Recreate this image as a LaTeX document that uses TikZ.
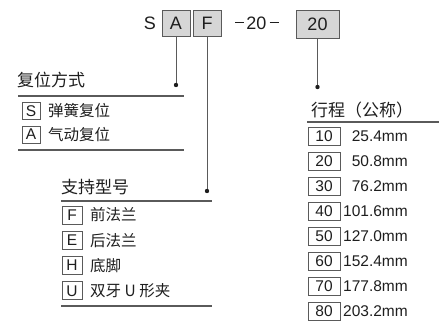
\documentclass[tikz,border=0pt]{standalone}
\usepackage{fontspec}
\setmainfont{Liberation Sans}
\newfontfamily\cjk{Noto Sans CJK SC}

\definecolor{boxfill}{HTML}{D6D6D6}
\definecolor{linegray}{HTML}{5A5A5A}
\definecolor{ink}{HTML}{1E1E1E}

\newcommand\codedash{\rule[6pt]{9pt}{1.1pt}}

\tikzset{
  codebox/.style={draw=linegray, fill=boxfill, line width=.9pt, minimum width=28pt,
    minimum height=26pt, inner sep=0pt, font=\fontsize{18}{18}\selectfont},
  keybox/.style={draw=linegray, line width=.9pt, minimum width=18pt, minimum height=17pt,
    inner sep=0pt},
  head/.style={anchor=west, inner sep=0pt, font=\cjk\fontsize{17}{20}\selectfont},
  item/.style={anchor=west, inner sep=0pt, font=\cjk\fontsize{15.5}{18}\selectfont},
  rule/.style={draw=linegray, line width=1.2pt},
  lead/.style={draw=linegray, line width=.9pt},
}

\begin{document}
\begin{tikzpicture}[x=1pt, y=-1pt, text=ink, font=\fontsize{15.5}{18}\selectfont]
\useasboundingbox (0,0) rectangle (439,324);

% model code
\node[font=\fontsize{18}{18}\selectfont] (s) at (150,23) {S};
\node[codebox] (a) at (176,23) {A};
\node[codebox] (f) at (207,23) {F};
\node[font=\fontsize{18}{18}\selectfont] (dash) at (257,23) {\codedash\kern2pt20\kern3pt\codedash};
\node[codebox, minimum width=43pt, minimum height=28pt] (st) at (317.5,24) {20};

\coordinate (da) at (176,85);
\coordinate (df) at (207,191);
\coordinate (dst) at (317.5,87);
\draw[lead] (a.south) -- (da);
\draw[lead] (f.south) -- (df);
\draw[lead] (st.south) -- (dst);
\foreach \d in {da,df,dst}
\fill[ink] (\d) circle (2.2pt);

% return type
\node[head] (ret) at (17,80) {复位方式};
\draw[rule] (18,96) -- (184,96) (18,150) -- (184,150);
\foreach \k/\t [count=\i] in {S/弹簧复位, A/气动复位}{
\node[keybox] (r\i) at (31,{87.5+23.5*\i}) {\k};
\node[item] (rt\i) at (48,{87.5+23.5*\i}) {\t};
}

% mounting
\node[head] (mnt) at (61,187) {支持型号};
\draw[rule] (61,201) -- (212,201) (61,306) -- (212,306);
\foreach \k/\t [count=\i] in {F/前法兰, E/后法兰, H/底脚, U/双牙 U 形夹}{
\node[keybox, minimum width=20pt, minimum height=18pt] (m\i) at (72,{189.7+25.3*\i}) {\k};
\node[item] (mt\i) at (90,{189.7+25.3*\i}) {\t};
}

% stroke
\node[head] (str) at (311,110) {行程（公称）};
\draw[rule] (307,122) -- (439,122);
\foreach \k/\t [count=\i] in {10/25.4mm, 20/50.8mm, 30/76.2mm, 40/101.6mm,
  50/127.0mm, 60/152.4mm, 70/177.8mm, 80/203.2mm}{
\node[keybox, minimum width=32pt, minimum height=18pt] (l\i) at (324,{111+25*\i}) {\k};
\node[anchor=east, inner sep=0pt] (lt\i) at (408,{111+25*\i}) {\t};
}
\end{tikzpicture}
\end{document}
